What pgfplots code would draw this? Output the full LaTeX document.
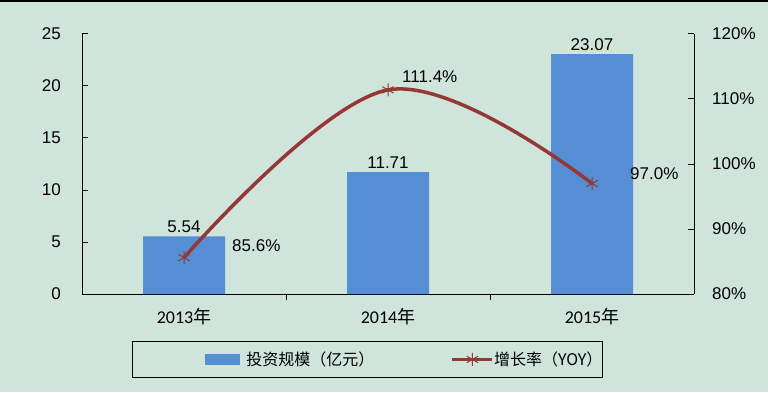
\documentclass[border=0pt]{standalone}
\usepackage{fontspec}
\setmainfont{Liberation Sans}
\newfontfamily\cjk{Noto Sans CJK SC}
\newfontfamily\carlito{Carlito}
\usepackage{pgfplots}
\pgfplotsset{compat=1.18}
\definecolor{bg}{RGB}{207,228,219}
\definecolor{barc}{RGB}{85,142,213}
\definecolor{linec}{RGB}{149,55,53}
\begin{document}
\begin{tikzpicture}[x=1bp,y=1bp]
\fill[bg] (0,0) rectangle (768,392);
\path[use as bounding box] (0,0) rectangle (768,392);
\draw[black, line width=2bp] (0,391) -- (768,391);
\begin{axis}[
  at={(82bp,98bp)}, anchor=south west, scale only axis,
  width=612bp, height=260bp,
  xmin=-0.5, xmax=2.5, ymin=0, ymax=25,
  axis x line*=bottom, axis y line*=left,
  axis line style={line width=1bp, black},
  every tick/.style={line width=1bp, black},
  tick align=inside, major tick length=6bp,
  xtick={0.5,1.5}, xticklabels={},
  extra x ticks={0,1,2},
  extra x tick labels={2013{\cjk 年},2014{\cjk 年},2015{\cjk 年}},
  extra x tick style={major tick length=0pt},
  xticklabel style={font=\carlito\fontsize{18bp}{20bp}\selectfont, inner sep=0pt, anchor=north, yshift=-14bp},
  ytick={0,5,10,15,20,25},
  yticklabel style={font=\fontsize{17bp}{19bp}\selectfont, inner sep=0pt, anchor=east, xshift=-21bp},
  /pgf/number format/assume math mode=true,
  ybar, bar width=82bp,
  nodes near coords,
  nodes near coords style={font=\fontsize{17bp}{19bp}\selectfont, /pgf/number format/fixed, /pgf/number format/precision=2, /pgf/number format/fixed zerofill},
  clip=false,
]
\addplot[fill=barc, draw=none] coordinates {(0,5.54) (1,11.71) (2,23.07)};
\end{axis}
\begin{axis}[
  at={(82bp,98bp)}, anchor=south west, scale only axis,
  width=612bp, height=260bp,
  xmin=-0.5, xmax=2.5, ymin=80, ymax=120,
  hide x axis,
  axis y line*=right,
  axis line style={line width=1bp, black},
  every tick/.style={line width=1bp, black},
  tick align=inside, major tick length=6bp,
  ytick={80,90,100,110,120},
  yticklabels={80\%,90\%,100\%,110\%,120\%},
  yticklabel style={font=\fontsize{17bp}{19bp}\selectfont, inner sep=0pt, anchor=west, xshift=18bp},
  clip=false,
  legend style={at={(axis description cs:0.0817,-0.1808)}, anchor=north west,
    draw=black, line width=0.8bp, fill=none, inner sep=0pt,
    font=\cjk\fontsize{16bp}{18bp}\selectfont,
    nodes={inner sep=0pt},
    /tikz/column sep=0pt, /tikz/row sep=0pt},
  legend columns=2,
]
\addlegendimage{legend image code/.code={
  \path[draw=none, fill=none] (-73bp,-18bp) rectangle (41bp,18bp);
  \fill[barc, draw=none] (0bp,-5.5bp) rectangle (35bp,5.5bp);}}
\addlegendentry{投资规模（亿元）}
\addplot[color=linec, line width=3.5bp, smooth, tension=0.6, mark=asterisk, mark size=6.5bp,
  mark options={line width=1bp, solid},
  legend image code/.code={
  \path[draw=none, fill=none] (-78bp,-18bp) rectangle (41bp,18bp);
  \draw[linec, line width=3.5bp] (0bp,0bp) -- (40bp,0bp);
  \draw[linec, line width=1bp] plot[mark=asterisk, mark size=6.5bp] coordinates {(20bp,0bp)};}
  ] coordinates {(0,85.6) (1,111.4) (2,97.0)};
\addlegendentry{增长率（YOY）\hspace{48bp}}
\node[anchor=west, inner sep=0pt, font=\fontsize{17bp}{19bp}\selectfont, xshift=48bp, yshift=12bp] at (axis cs:0,85.6) {85.6\%};
\node[anchor=west, inner sep=0pt, font=\fontsize{17bp}{19bp}\selectfont, xshift=14bp, yshift=13bp] at (axis cs:1,111.4) {111.4\%};
\node[anchor=west, inner sep=0pt, font=\fontsize{17bp}{19bp}\selectfont, xshift=38bp, yshift=10bp] at (axis cs:2,97.0) {97.0\%};
\end{axis}
\end{tikzpicture}
\end{document}
